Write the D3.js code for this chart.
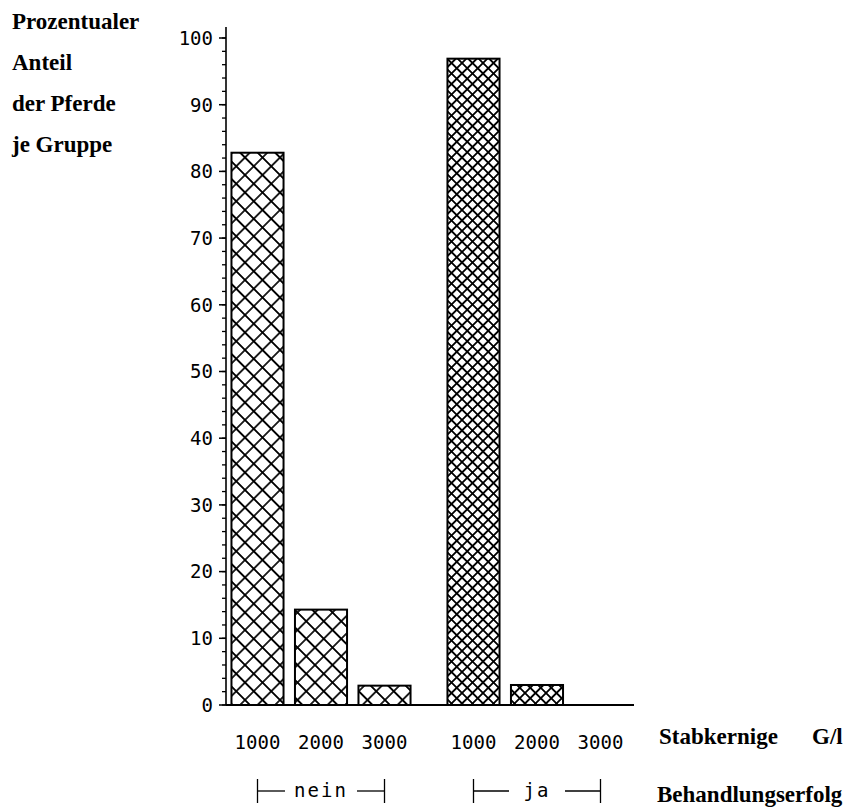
<!DOCTYPE html>
<html>
<head>
<meta charset="utf-8">
<script src="https://cdn.jsdelivr.net/npm/d3@7"></script>
<style>
  body { margin: 0; background: #fff; }
  .serif { font-family: "Liberation Serif", "DejaVu Serif", serif; font-weight: bold; }
  .mono { font-family: "DejaVu Sans Mono", monospace; }
</style>
</head>
<body>
<div id="chart"></div>
<script>
const groups = ['nein', 'ja'];
const doses = ['1000', '2000', '3000'];
const neinValues = [82.8, 14.3, 2.9];
const jaValues = [96.9, 3.0, 0];
const yMajorTicks = d3.range(0, 101, 10);
const yMinorTicks = d3.range(0, 101, 2);
const titleLines = ['Prozentualer', 'Anteil', 'der Pferde', 'je Gruppe'];

const width = 850,
  height = 810;

const data = [];
groups.forEach((g) => {
  const vals = g === 'nein' ? neinValues : jaValues;
  doses.forEach((d, i) => data.push({ group: g, dose: d, value: vals[i] }));
});

const svg = d3.select('#chart').append('svg').attr('width', width).attr('height', height);

// cross hatch, rotated 45deg: coarse for "nein", fine for "ja"
const defs = svg.append('defs');
[['hatch-nein', 17.5, 1.7], ['hatch-ja', 10.5, 1.9]].forEach(([id, period, sw]) => {
  const s = period / Math.SQRT2;
  const pat = defs
    .append('pattern')
    .attr('id', id)
    .attr('patternUnits', 'userSpaceOnUse')
    .attr('width', s)
    .attr('height', s)
    .attr('patternTransform', 'rotate(45)');
  pat.append('rect').attr('width', s).attr('height', s).attr('fill', '#fff');
  pat
    .append('path')
    .attr('d', `M0,0H${s}M0,${s}H${s}M0,0V${s}M${s},0V${s}`)
    .attr('stroke', '#000')
    .attr('stroke-width', sw)
    .attr('fill', 'none');
});

const y = d3.scaleLinear().domain([0, 100]).range([705, 38]);

const x0 = d3.scaleBand().domain(groups).range([225.75, 632.25]).paddingInner(0.118).paddingOuter(0);
const x1 = d3
  .scaleBand()
  .domain(doses)
  .range([0, x0.bandwidth()])
  .paddingInner(0.18)
  .paddingOuter(0.09);

const axisX = 226;

// bars
svg
  .append('g')
  .selectAll('rect')
  .data(data.filter((d) => d.value > 0))
  .join('rect')
  .attr('x', (d) => x0(d.group) + x1(d.dose))
  .attr('y', (d) => y(d.value))
  .attr('width', x1.bandwidth())
  .attr('height', (d) => y(0) - y(d.value))
  .attr('fill', (d) => `url(#hatch-${d.group})`)
  .attr('stroke', '#000')
  .attr('stroke-width', 2);

// y axis
const yAxis = svg.append('g').attr('stroke', '#000');
yAxis
  .append('line')
  .attr('x1', axisX)
  .attr('x2', axisX)
  .attr('y1', 27)
  .attr('y2', y(0))
  .attr('stroke-width', 1.6);
yAxis
  .selectAll('line.minor')
  .data(yMinorTicks)
  .join('line')
  .attr('class', 'minor')
  .attr('x1', axisX - 4)
  .attr('x2', axisX)
  .attr('y1', (d) => y(d))
  .attr('y2', (d) => y(d))
  .attr('stroke-width', 1.3);
yAxis
  .selectAll('line.major')
  .data(yMajorTicks)
  .join('line')
  .attr('class', 'major')
  .attr('x1', axisX - 7)
  .attr('x2', axisX)
  .attr('y1', (d) => y(d))
  .attr('y2', (d) => y(d))
  .attr('stroke-width', 1.5);

svg
  .append('g')
  .selectAll('text')
  .data(yMajorTicks)
  .join('text')
  .attr('class', 'mono')
  .attr('x', 213)
  .attr('y', (d) => y(d))
  .attr('dy', '0.36em')
  .attr('text-anchor', 'end')
  .attr('font-size', 19)
  .text((d) => d);

// x baseline
svg
  .append('line')
  .attr('x1', axisX)
  .attr('x2', 634)
  .attr('y1', y(0))
  .attr('y2', y(0))
  .attr('stroke', '#000')
  .attr('stroke-width', 1.8);

// dose labels
svg
  .append('g')
  .selectAll('text')
  .data(data)
  .join('text')
  .attr('class', 'mono')
  .attr('x', (d) => x0(d.group) + x1(d.dose) + x1.bandwidth() / 2)
  .attr('y', 749)
  .attr('text-anchor', 'middle')
  .attr('font-size', 19)
  .text((d) => d.dose);

// group brackets
const bracketY = 791;
groups.forEach((g) => {
  const xa = x0(g) + x1(doses[0]) + x1.bandwidth() / 2;
  const xb = x0(g) + x1(doses[doses.length - 1]) + x1.bandwidth() / 2;
  const mid = (xa + xb) / 2;
  const half = g === 'nein' ? 36 : 28;
  const b = svg.append('g').attr('stroke', '#000').attr('stroke-width', 1.3);
  b.append('line').attr('x1', xa).attr('x2', xa).attr('y1', bracketY - 12).attr('y2', bracketY + 12);
  b.append('line').attr('x1', xb).attr('x2', xb).attr('y1', bracketY - 12).attr('y2', bracketY + 12);
  b.append('line').attr('x1', xa).attr('x2', mid - half).attr('y1', bracketY).attr('y2', bracketY);
  b.append('line').attr('x1', mid + half).attr('x2', xb).attr('y1', bracketY).attr('y2', bracketY);
  svg
    .append('text')
    .attr('class', 'mono')
    .attr('x', mid)
    .attr('y', bracketY + 6)
    .attr('text-anchor', 'middle')
    .attr('font-size', 19)
    .attr('letter-spacing', 2)
    .text(g);
});

// y title
svg
  .append('g')
  .selectAll('text')
  .data(titleLines)
  .join('text')
  .attr('class', 'serif')
  .attr('x', 12)
  .attr('y', (d, i) => 29 + i * 41)
  .attr('font-size', 23)
  .text((d) => d);

// x titles
svg.append('text').attr('class', 'serif').attr('x', 659).attr('y', 744).attr('font-size', 23).text('Stabkernige');
svg.append('text').attr('class', 'serif').attr('x', 812).attr('y', 744).attr('font-size', 23).text('G/l');
svg.append('text').attr('class', 'serif').attr('x', 657).attr('y', 802).attr('font-size', 23).text('Behandlungserfolg');
</script>
</body>
</html>
